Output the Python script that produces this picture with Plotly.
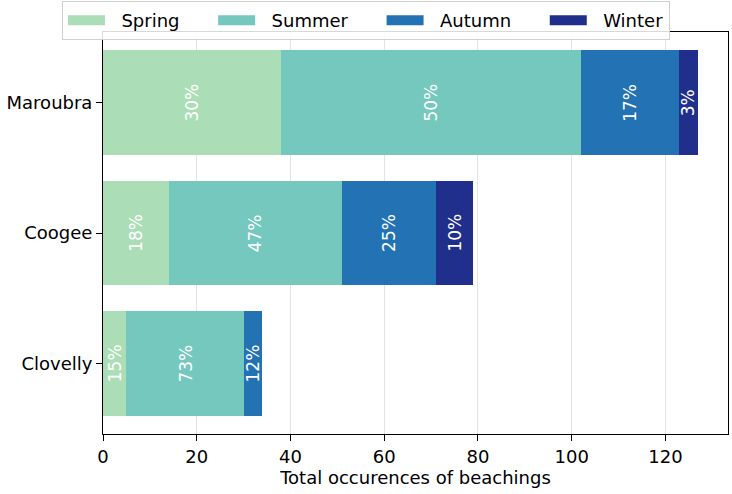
import plotly.graph_objects as go

beaches = ["Maroubra", "Coogee", "Clovelly"]
seasons = ["Spring", "Summer", "Autumn", "Winter"]
spring = [38, 14, 5]
summer = [64, 37, 25]
autumn = [21, 20, 4]
winter = [4, 8, 0]
# percentage labels as printed on the bars
spring_pct = ["30%", "18%", "15%"]
summer_pct = ["50%", "47%", "73%"]
autumn_pct = ["17%", "25%", "12%"]
winter_pct = ["3%", "10%", ""]
x_ticks = [0, 20, 40, 60, 80, 100, 120]

series = [
    ("Spring", spring, spring_pct, "#abdeb6"),
    ("Summer", summer, summer_pct, "#74c8be"),
    ("Autumn", autumn, autumn_pct, "#2372b3"),
    ("Winter", winter, winter_pct, "#212f8c"),
]

FONT = "DejaVu Sans"
NB = "\u00a0"
fig = go.Figure()
cum = [0] * len(beaches)
annotations = []
for k, (name, vals, pcts, color) in enumerate(series):
    fig.add_trace(go.Bar(
        y=beaches, x=vals, base=cum[:], orientation="h", name=name,
        marker=dict(color=color, line=dict(width=0)), width=0.8,
        showlegend=False,
    ))
    # legend patch (wide rectangle like the reference legend)
    trail = NB * 5 if k < len(series) - 1 else ""
    fig.add_trace(go.Scatter(
        x=[None], y=[None], mode="lines", name=NB * 2 + name + trail,
        line=dict(color=color, width=14), hoverinfo="skip",
    ))
    for i, b in enumerate(beaches):
        if vals[i] > 0:
            annotations.append(dict(
                x=cum[i] + vals[i] / 2, y=b, xref="x", yref="y",
                text=pcts[i], showarrow=False,
                textangle=-90, font=dict(family=FONT, size=17, color="white"),
            ))
    cum = [cum[i] + vals[i] for i in range(len(beaches))]

fig.update_layout(
    width=732, height=494,
    margin=dict(l=103, r=4, t=32, b=60, autoexpand=False),
    plot_bgcolor="white", paper_bgcolor="white",
    barmode="overlay", bargap=0,
    font=dict(family=FONT, size=18, color="black"),
    showlegend=True,
    legend=dict(
        orientation="h", x=-0.0656, xanchor="left", y=1.077, yanchor="top",
        bordercolor="#d0d0d0", borderwidth=1, bgcolor="rgba(255,255,255,0.85)",
        font=dict(family=FONT, size=18), itemwidth=37,
        traceorder="normal",
    ),
    annotations=annotations,
)
fig.update_xaxes(
    range=[0, 133.35], tickvals=x_ticks, ticks="outside", ticklen=6,
    tickcolor="black", showline=True, linecolor="black", linewidth=1, mirror=True,
    showgrid=True, gridcolor="#e3e3e3", gridwidth=1, zeroline=False,
    title=dict(text="Total occurences of beachings", font=dict(size=18), standoff=4),
    tickfont=dict(size=18),
)
fig.update_yaxes(
    categoryorder="array", categoryarray=beaches[::-1], range=[-0.54, 2.54],
    ticks="outside", ticklen=6, tickcolor="black", showline=True,
    linecolor="black", linewidth=1, mirror=True, showgrid=False,
    tickfont=dict(size=18),
)
fig.write_html("out.html", config={"displayModeBar": False},
               post_script="document.body.style.margin='0';")
